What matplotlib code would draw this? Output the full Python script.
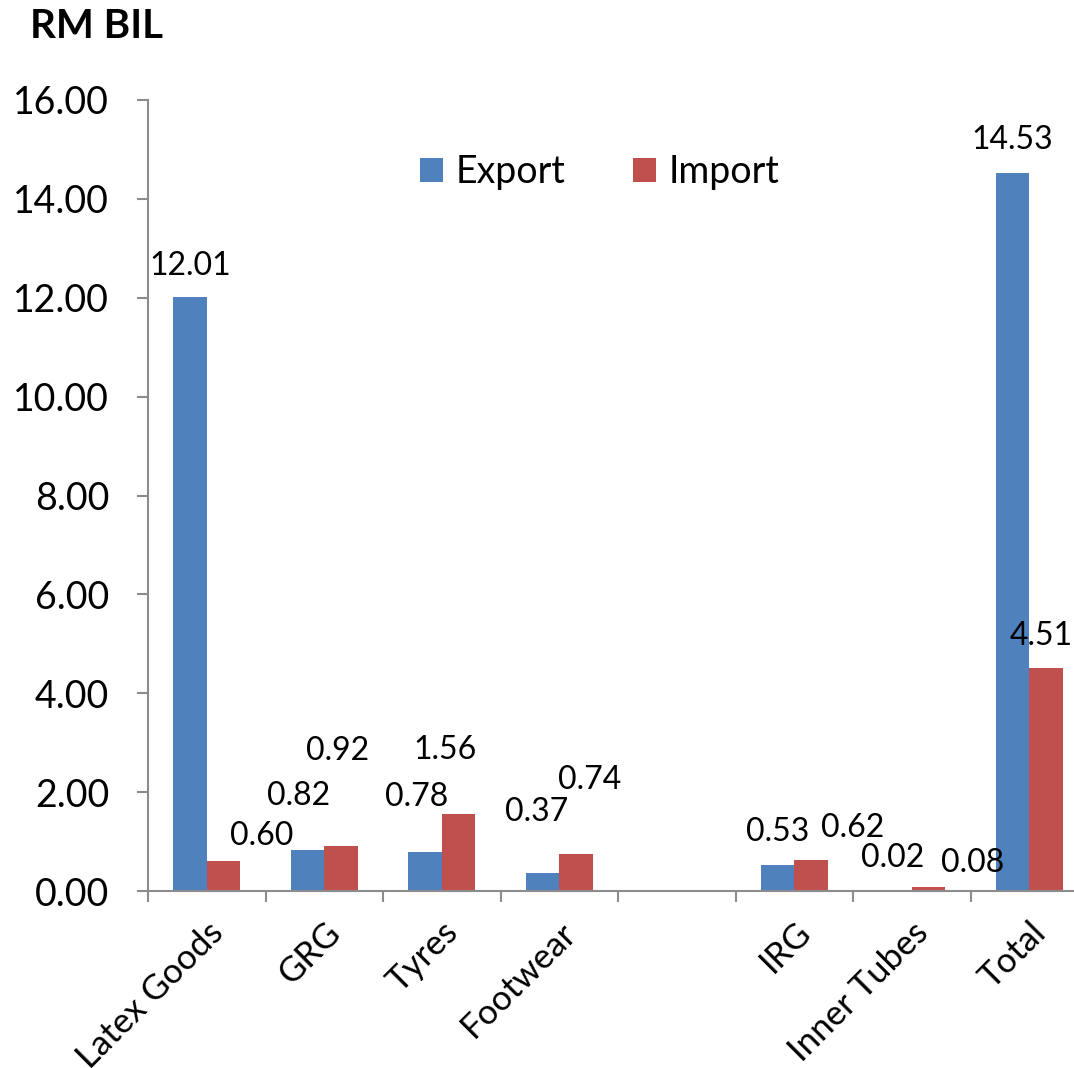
import numpy as np
import matplotlib
matplotlib.use("Agg")
import matplotlib.pyplot as plt

plt.rcParams['font.family'] = ['Lato', 'DejaVu Sans']

# Rubber products trade, RM billion
categories = ["Latex Goods", "GRG", "Tyres", "Footwear", "", "IRG", "Inner Tubes", "Total"]
export_vals = [12.01, 0.82, 0.78, 0.37, np.nan, 0.53, 0.02, 14.53]
import_vals = [0.60, 0.92, 1.56, 0.74, np.nan, 0.62, 0.08, 4.51]

# label offsets (pixels) from the top of each bar
export_offsets = [(0, 31), (-9, 54), (-8, 55), (-6, 61), None, (0, 33), (-2, 32), (0, 33)]
import_offsets = [(38, 25), (-3, 95), (-13, 64), (14, 74), None, (42, 32), (44, 24), (-5, 32)]

blue = "#4F81BD"
red = "#C0504D"
axis_grey = "#8C8C8C"

fig = plt.figure(figsize=(10.74, 10.68), dpi=100)
ax = fig.add_axes([148 / 1074, 177 / 1068, 940 / 1074, 791 / 1068])

x = np.arange(len(categories))
w = 0.285
b1 = ax.bar(x - w / 2, np.nan_to_num(export_vals), w, color=blue, label="Export")
b2 = ax.bar(x + w / 2, np.nan_to_num(import_vals), w, color=red, label="Import")

# value labels
for xs, vals, offs in [(x - w / 2, export_vals, export_offsets), (x + w / 2, import_vals, import_offsets)]:
    for xi, v, off in zip(xs, vals, offs):
        if off is None or np.isnan(v):
            continue
        ax.annotate("{:.2f}".format(v), (xi, v), xytext=off, textcoords="offset pixels",
                    ha="center", va="center", fontsize=23, color="black")

ax.set_xlim(-0.5, len(categories) - 0.5)
ax.set_ylim(0, 16)
ax.set_yticks(np.arange(0, 16.1, 2))
ax.set_yticklabels(["{:.2f}".format(t) for t in np.arange(0, 16.1, 2)], fontsize=27)

# category boundaries as tick marks, names at the centres
ax.set_xticks(np.arange(len(categories) + 1) - 0.5)
ax.set_xticklabels([])
ax.set_xticks(x, minor=True)
ax.set_xticklabels(categories, minor=True, rotation=45, ha="right", va="top",
                   rotation_mode="anchor", fontsize=25)
ax.tick_params(axis="x", which="minor", length=0, pad=18)
ax.tick_params(axis="x", which="major", length=8, width=1.5, color=axis_grey, direction="out")
ax.tick_params(axis="y", length=8, width=1.5, color=axis_grey, pad=20)

for s in ["top", "right"]:
    ax.spines[s].set_visible(False)
for s in ["left", "bottom"]:
    ax.spines[s].set_color(axis_grey)
    ax.spines[s].set_linewidth(1.5)

fig.legend(handles=[b1, b2], loc="center", bbox_to_anchor=(600 / 1074, 1 - 172 / 1068),
           ncol=2, frameon=False, fontsize=27, handlelength=0.6, handleheight=0.6,
           handletextpad=0.35, columnspacing=1.8)

fig.text(30 / 1074, 1 - 27 / 1068, "RM BIL", fontsize=29, fontweight="bold", va="center", ha="left")

fig.savefig("out.png", dpi=100)
